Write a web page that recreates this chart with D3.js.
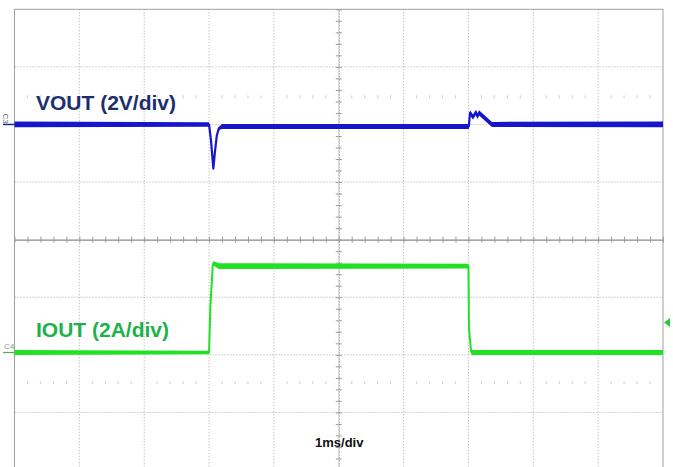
<!DOCTYPE html>
<html>
<head>
<meta charset="utf-8">
<script src="https://cdn.jsdelivr.net/npm/d3@7"></script>
<style>
  body { margin: 0; background: #fff; }
  svg { display: block; }
</style>
</head>
<body>
<div id="scope"></div>
<script>
// scope capture : time in ms (1ms/div), VOUT in V (2V/div), IOUT in A (2A/div)
const voutTime  = [0, 3.0, 3.03, 3.066, 3.09, 3.12, 3.15, 3.2, 7.006, 7.024, 7.07, 7.116, 7.14, 7.163, 7.363, 10];
const voutVolts = [0, 0, -0.56, -1.53, -0.97, -0.38, -0.14, -0.07, -0.07, 0.4, 0.26, 0.42, 0.28, 0.4, 0, 0];
const voutNoise = [0.1, 0.08, 0.03, 0.02, 0.03, 0.03, 0.05, 0.09, 0.09, 0.09, 0.09, 0.09, 0.09, 0.09, 0.09, 0.1];

const ioutTime = [0, 3.0, 3.02, 3.056, 3.066, 3.15, 7.0, 7.008, 7.04, 7.05, 10];
const ioutAmps = [0, 0, 1.6, 3.0, 3.1, 3.0, 3.0, 0.85, 0.05, 0, 0];
const ioutNoise = [0.085, 0.06, 0.02, 0.06, 0.08, 0.1, 0.08, 0.02, 0.03, 0.085, 0.085];

const channels = ["VOUT (2V/div)", "IOUT (2A/div)"];
const voltsPerDiv = 2, ampsPerDiv = 2;
const voutPosDiv = 2.0, ioutPosDiv = -1.96;   // channel offsets on screen, in divisions
const trigLevelAmps = 1.04;
const timebase = "1ms/div";

const W = 673, H = 467;
const svg = d3.select("#scope").append("svg")
  .attr("width", W).attr("height", H);

const x = d3.scaleLinear().domain([0, 10]).range([14.5, 663]);
const yDiv = d3.scaleLinear().domain([-4, 4]).range([470, 9.3]);
const yV = v => yDiv(voutPosDiv + v / voltsPerDiv);
const yA = a => yDiv(ioutPosDiv + a / ampsPerDiv);

// grid
const grid = svg.append("g");
grid.selectAll(".vline")
  .data(d3.range(1, 10))
  .enter().append("line")
    .attr("x1", d => x(d)).attr("x2", d => x(d))
    .attr("y1", yDiv(4)).attr("y2", yDiv(-4))
    .attr("stroke", "#a8a8a8")
    .attr("stroke-dasharray", "1,2");
grid.selectAll(".hline")
  .data(d3.range(-3, 4).filter(d => d !== 0))
  .enter().append("line")
    .attr("x1", x(0)).attr("x2", x(10))
    .attr("y1", d => yDiv(d)).attr("y2", d => yDiv(d))
    .attr("stroke", "#a8a8a8")
    .attr("stroke-dasharray", "1,2");

// faint cursor dots
const minor = d3.range(0, 10, 0.2).filter(d => Math.abs(d - Math.round(d)) > 0.01);
[2.48, -2.48].forEach(row => {
  grid.selectAll(null)
    .data(minor)
    .enter().append("rect")
      .attr("x", d => x(d) - 0.6).attr("y", yDiv(row) - 1.5)
      .attr("width", 1.2).attr("height", 3)
      .attr("fill", "#d6d6d6");
});

// centre axes with minor ticks
const minorX = d3.range(0, 10.001, 0.2);
const minorY = d3.range(-4, 4.001, 0.2);
const axStyle = g => {
  g.select(".domain").attr("stroke", "#9a9a9a");
  g.selectAll(".tick line").attr("stroke", "#9a9a9a");
  g.selectAll("text").remove();
};
svg.append("g").attr("transform", `translate(0,${yDiv(0)})`)
  .call(d3.axisTop(x).tickValues(minorX).tickSize(3).tickSizeOuter(0)).call(axStyle);
svg.append("g").attr("transform", `translate(0,${yDiv(0)})`)
  .call(d3.axisBottom(x).tickValues(minorX).tickSize(3).tickSizeOuter(0)).call(axStyle);
svg.append("g").attr("transform", `translate(${x(5)},0)`)
  .call(d3.axisLeft(yDiv).tickValues(minorY).tickSize(3).tickSizeOuter(0)).call(axStyle)
  .select(".domain").attr("stroke-dasharray", "1,2");
svg.append("g").attr("transform", `translate(${x(5)},0)`)
  .call(d3.axisRight(yDiv).tickValues(minorY).tickSize(3).tickSizeOuter(0)).call(axStyle)
  .select(".domain").attr("stroke-dasharray", "1,2");

// frame
svg.append("rect")
  .attr("x", x(0)).attr("y", yDiv(4))
  .attr("width", x(10) - x(0)).attr("height", yDiv(-4) - yDiv(4))
  .attr("fill", "none").attr("stroke", "#a0a0a0");

// traces
const vout = voutTime.map((t, i) => ({ t: t, v: voutVolts[i], n: voutNoise[i] }));
const iout = ioutTime.map((t, i) => ({ t: t, v: ioutAmps[i], n: ioutNoise[i] }));

const blue = "#1616cc", green = "#22e024";

svg.append("path")
  .datum(vout)
  .attr("fill", blue)
  .attr("d", d3.area().x(d => x(d.t)).y0(d => yV(d.v - d.n)).y1(d => yV(d.v + d.n)));
svg.append("path")
  .datum(vout)
  .attr("fill", "none").attr("stroke", blue).attr("stroke-width", 2.2)
  .attr("stroke-linejoin", "round")
  .attr("d", d3.line().x(d => x(d.t)).y(d => yV(d.v)));

svg.append("path")
  .datum(iout)
  .attr("fill", green)
  .attr("d", d3.area().x(d => x(d.t)).y0(d => yA(d.v - d.n)).y1(d => yA(d.v + d.n)));
svg.append("path")
  .datum(iout)
  .attr("fill", "none").attr("stroke", green).attr("stroke-width", 2)
  .attr("stroke-linejoin", "round")
  .attr("d", d3.line().x(d => x(d.t)).y(d => yA(d.v)));

// channel markers
svg.append("line")
  .attr("x1", 3).attr("x2", x(0)).attr("y1", yV(0)).attr("y2", yV(0))
  .attr("stroke", "#1c2f6b").attr("stroke-width", 1.5);
svg.append("text")
  .attr("transform", `translate(5,${yV(0) - 11}) rotate(90)`)
  .attr("font-family", "Liberation Sans, Arial, sans-serif")
  .attr("font-size", 8).attr("fill", "#5a6080")
  .attr("dominant-baseline", "middle")
  .text("C3");
svg.append("line")
  .attr("x1", 3).attr("x2", x(0)).attr("y1", yA(0)).attr("y2", yA(0))
  .attr("stroke", "#4cb04c").attr("stroke-width", 1.2);
svg.append("text")
  .attr("x", 4).attr("y", yA(0) - 4)
  .attr("font-family", "Liberation Sans, Arial, sans-serif")
  .attr("font-size", 8).attr("fill", "#6aa86a")
  .text("C4");

// trigger level marker
const ty = yA(trigLevelAmps);
svg.append("path")
  .attr("d", `M664,${ty} L670,${ty - 4.5} L670,${ty + 4.5} Z`)
  .attr("fill", "#2cc840");

// labels
svg.append("text")
  .attr("x", 36).attr("y", 110)
  .attr("font-family", "Liberation Sans, Arial, sans-serif")
  .attr("font-weight", "bold").attr("font-size", 21)
  .attr("fill", "#1c2f6b")
  .text(channels[0]);
svg.append("text")
  .attr("x", 36).attr("y", 337)
  .attr("font-family", "Liberation Sans, Arial, sans-serif")
  .attr("font-weight", "bold").attr("font-size", 21)
  .attr("fill", "#1cb24a")
  .text(channels[1]);
svg.append("text")
  .attr("x", 315).attr("y", 447)
  .attr("font-family", "Liberation Sans, Arial, sans-serif")
  .attr("font-weight", "bold").attr("font-size", 13)
  .attr("fill", "#111")
  .text(timebase);
</script>
</body>
</html>
